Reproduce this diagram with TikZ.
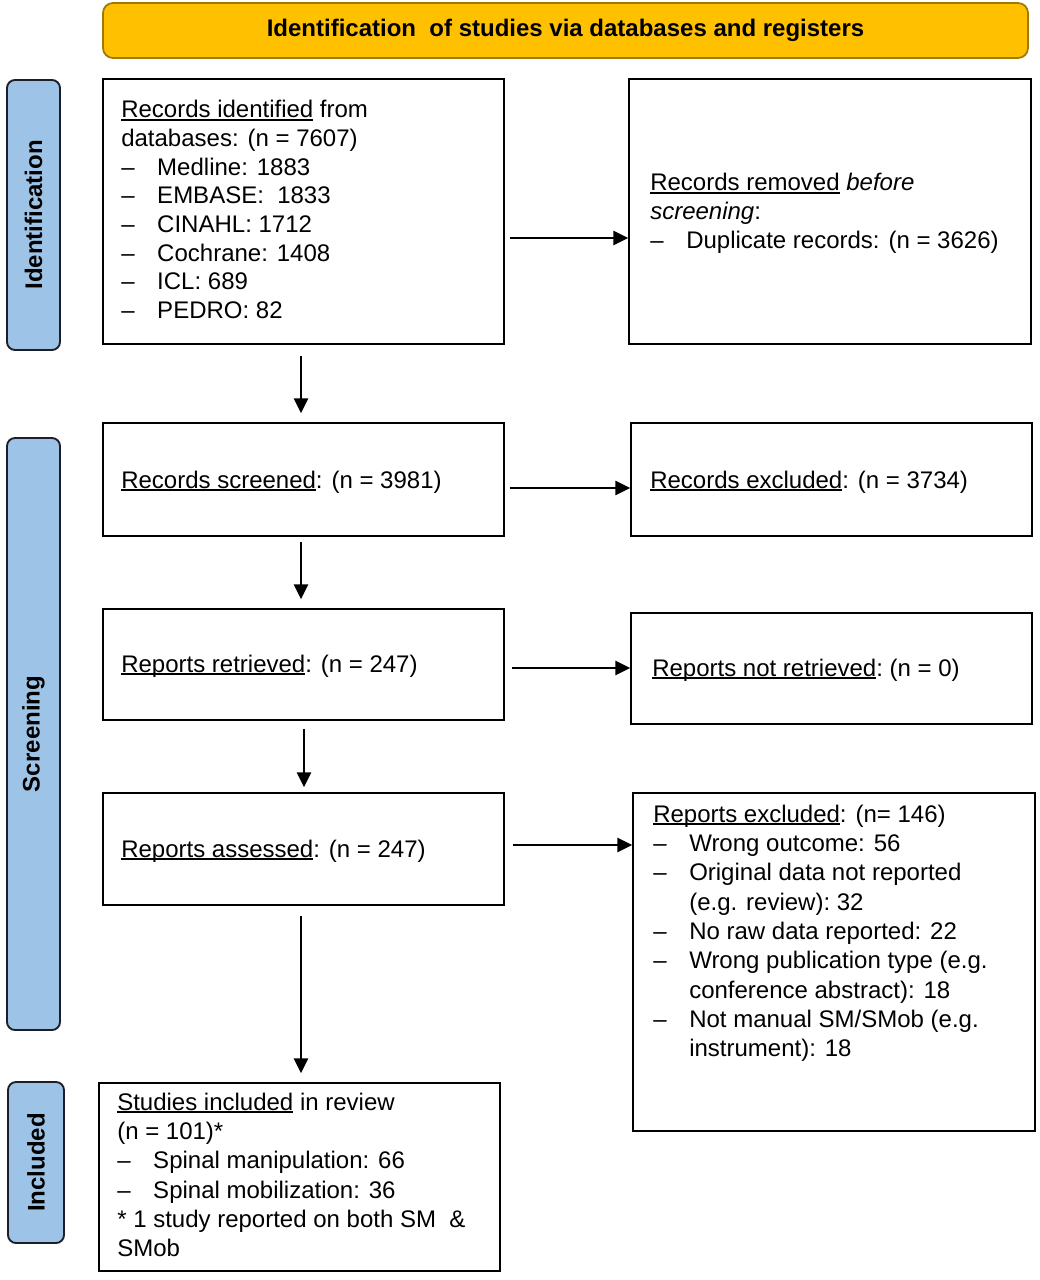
\documentclass[tikz,border=0pt]{standalone}
\usepackage{fontspec}
\setmainfont{Liberation Sans}
\usetikzlibrary{fit,arrows.meta}
\definecolor{bannerfill}{HTML}{FFC000}
\definecolor{bannerdraw}{HTML}{A07800}
\definecolor{sidefill}{HTML}{9DC3E6}
\definecolor{sidedraw}{HTML}{1E1E28}
\newcommand{\itm}{\makebox[27pt][l]{–}}
\newcommand{\ind}{\hspace*{27pt}}
\newcommand{\ulx}[1]{\setbox0\hbox{#1}\rlap{\rule[-2pt]{\wd0}{0.9pt}}\box0\relax}
\begin{document}
\begin{tikzpicture}[x=0.75pt,y=-0.75pt,
  box/.style={draw=black, line width=1.3pt, inner sep=0pt, fill=white},
  side/.style={draw=sidedraw, line width=1.4pt, fill=sidefill, rounded corners=6pt, inner sep=0pt},
  banner/.style={draw=bannerdraw, line width=1.3pt, fill=bannerfill, rounded corners=7.5pt, inner sep=0pt},
  arr/.style={line width=1.5pt, -{Triangle[length=11pt,width=10.5pt]}},
  txt/.style={anchor=base west, inner sep=0pt, font=\fontsize{18pt}{21.5pt}\selectfont},
  txtb/.style={anchor=base west, inner sep=0pt, font=\fontsize{18pt}{22pt}\selectfont},
  lab/.style={font=\bfseries\fontsize{18pt}{21pt}\selectfont, rotate=90, inner sep=0pt}]
\useasboundingbox (0,0) rectangle (1039,1280);
\fill[white] (0,0) rectangle (1039,1280);
% banner
\node[banner, fit={(103,3) (1028,58)}] (ban) {};
\node[font=\bfseries\fontsize{18pt}{21pt}\selectfont, inner sep=0pt] (bant) at (ban.center) {Identification\ \ of studies via databases and registers};
% side labels
\node[side, fit={(7,80) (60,350)}] (sid) {};
\node[lab] (sidt) at (sid.center) {Identification};
\node[side, fit={(7,438) (60,1030)}] (sscr) {};
\node[lab] (sscrt) at (sscr.center) {Screening};
\node[side, fit={(8,1082) (64,1243)}] (sinc) {};
\node[lab] (sinct) at (sinc.center) {Included};
% boxes
\node[box, fit={(103,79) (504,344)}] (b1) {};
\node[box, fit={(629,79) (1031,344)}] (b2) {};
\node[box, fit={(103,423) (504,536)}] (b3) {};
\node[box, fit={(631,423) (1032,536)}] (b4) {};
\node[box, fit={(103,609) (504,720)}] (b5) {};
\node[box, fit={(631,613) (1032,724)}] (b6) {};
\node[box, fit={(103,793) (504,905)}] (b7) {};
\node[box, fit={(633,793) (1035,1131)}] (b8) {};
\node[box, fit={(99,1083) (500,1271)}] (b9) {};
% texts
\node[txt] (t1) at (121,118) {\begin{tabular}[t]{@{}l@{}}
\ulx{Records identified} from\\
databases: (n = 7607)\\
\itm Medline: 1883\\
\itm EMBASE:\ \ 1833\\
\itm CINAHL: 1712\\
\itm Cochrane: 1408\\
\itm ICL: 689\\
\itm PEDRO: 82
\end{tabular}};
\node[txt] (t2) at (650,191) {\begin{tabular}[t]{@{}l@{}}
\ulx{Records removed} \textit{before}\\
\textit{screening}:\\
\itm Duplicate records: (n = 3626)
\end{tabular}};
\node[txt] (t3) at (121,488) {\ulx{Records screened}: (n = 3981)};
\node[txt] (t4) at (650,488) {\ulx{Records excluded}: (n = 3734)};
\node[txt] (t5) at (121,672) {\ulx{Reports retrieved}: (n = 247)};
\node[txt] (t6) at (652,676) {\ulx{Reports not retrieved}:\ (n = 0)};
\node[txt] (t7) at (121,857) {\ulx{Reports assessed}: (n = 247)};
\node[txtb] (t8) at (653,822) {\begin{tabular}[t]{@{}l@{}}
\ulx{Reports excluded}: (n= 146)\\
\itm Wrong outcome: 56\\
\itm Original data not reported\\
\ind (e.g. review):\ 32\\
\itm No raw data reported: 22\\
\itm Wrong publication type (e.g.\\
\ind conference abstract): 18\\
\itm Not manual SM/SMob (e.g.\\
\ind instrument): 18
\end{tabular}};
\node[txtb] (t9) at (117,1110) {\begin{tabular}[t]{@{}l@{}}
\ulx{Studies included} in review\\
(n = 101)*\\
\itm Spinal manipulation: 66\\
\itm Spinal mobilization: 36\\
\relax* 1 study reported on both SM\ \ \&\\
SMob
\end{tabular}};
% arrows
\draw[arr] ([shift={(5,26.5)}]b1.east) -- ([shift={(0,26.5)}]b2.west);
\draw[arr] ([shift={(5,8.5)}]b3.east) -- ([shift={(0,8.5)}]b4.west);
\draw[arr] ([shift={(7,3.5)}]b5.east) -- ([shift={(0,-0.5)}]b6.west);
\draw[arr] ([shift={(8,-4)}]b7.east) -- ([shift={(0,-117)}]b8.west);
\draw[arr] ([shift={(-2.5,11)}]b1.south) -- ([shift={(-2.5,-9)}]b3.north);
\draw[arr] ([shift={(-2.5,5)}]b3.south) -- ([shift={(-2.5,-9)}]b5.north);
\draw[arr] ([shift={(0.5,8)}]b5.south) -- ([shift={(0.5,-5)}]b7.north);
\draw[arr] ([shift={(-2.5,10)}]b7.south) -- ([shift={(1.5,-9)}]b9.north);
\end{tikzpicture}
\end{document}
